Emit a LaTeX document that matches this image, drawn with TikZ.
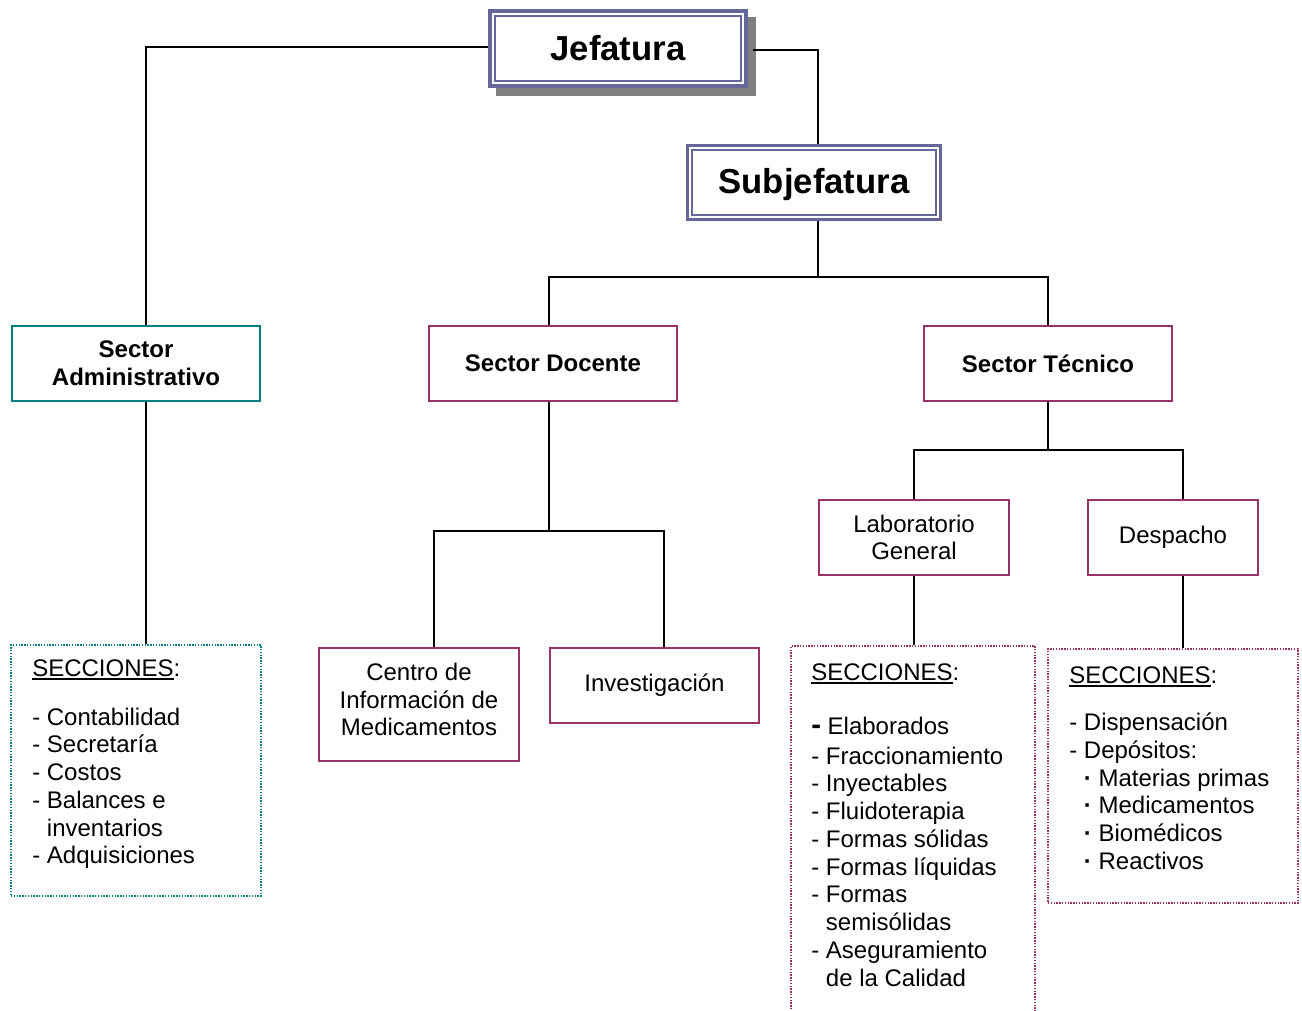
\documentclass[tikz,border=0pt]{standalone}
\usepackage{fontspec}
\setmainfont{Liberation Sans}
\usetikzlibrary{backgrounds}
\definecolor{jefecol}{RGB}{102,102,153}
\definecolor{admcol}{RGB}{0,128,128}
\definecolor{teccol}{RGB}{153,51,102}
\definecolor{shadowgray}{RGB}{128,128,128}
\newcommand{\ulsec}[1]{\setbox0\hbox{#1}\rlap{\rule[-2.6pt]{\wd0}{1.1pt}}\box0}
\newcommand{\dotitem}{\hspace*{11pt}{\bfseries ·}\ }
\tikzset{
  edge/.style = {
    line width=1.5pt
  },
  inner frame/.style = {
    path picture={\draw[jefecol, line width=1.3pt]
      ([shift={(#1,-#1)}]path picture bounding box.north west) rectangle
      ([shift={(-#1,#1)}]path picture bounding box.south east);}
  },
  jefebox/.style = {
    draw=jefecol, fill=white,
    font=\fontsize{26}{30}\selectfont\bfseries
  },
  admbox/.style = {
    draw=admcol, line width=2pt, align=center,
    minimum width=186pt, minimum height=56.25pt,
    font=\fontsize{18}{20.8}\selectfont\bfseries
  },
  tecbox/.style = {
    draw=teccol, line width=1.5pt, align=center,
    minimum width=186pt, minimum height=56.25pt,
    font=\fontsize{18}{20.8}\selectfont\bfseries
  },
  unitbox/.style = {
    draw=teccol, line width=1.5pt, align=center,
    minimum height=56.25pt,
    font=\fontsize{18}{20.6}\selectfont
  },
  secbox/.style = {
    line width=1.5pt, dash pattern=on 1.1pt off 1pt
  },
  seclist/.style = {
    anchor=north west, inner sep=0pt, align=left,
    font=\fontsize{18}{20.8}\selectfont
  }
}

\begin{document}
\begin{tikzpicture}[x=0.75pt, y=-0.75pt]
    \useasboundingbox (0,0) rectangle (1302,1010);

    \node[jefebox, line width=2.6pt, inner frame=4pt, minimum width=192pt, minimum height=56.25pt] (jefe) at (618,48.5) {Jefatura};
    \node[jefebox, line width=2.2pt, inner frame=3.4pt, minimum width=189.75pt, minimum height=55.5pt, text depth=3pt] (subjefe) at (814,182.5) {Subjefatura};
    \begin{scope}[on background layer]
      \fill[shadowgray] ([shift={(6pt,-6pt)}]jefe.south west) rectangle ([shift={(6pt,-6pt)}]jefe.north east);
    \end{scope}

    \node[admbox] (adm) at (136,363.5) {Sector\\Administrativo};
    \node[tecbox] (doc) at (553,363.5) {Sector Docente};
    \node[tecbox] (tec) at (1048,363.5) {Sector Técnico};

    \node[unitbox, minimum width=142.5pt] (lab) at (914,537.5) {Laboratorio\\General};
    \node[unitbox, minimum width=127.5pt] (desp) at (1173,537.5) {Despacho};
    \node[unitbox, minimum width=150pt, minimum height=84.75pt, text depth=7.5pt] (cim) at (419,704.5) {Centro de\\Información de\\Medicamentos};
    \node[unitbox, minimum width=156.75pt] (inv) at (654.5,685) {Investigación};

    \node[secbox, draw=admcol, minimum width=187.5pt, minimum height=188.25pt] (secadm) at (136,770.5) {};
    \node[secbox, draw=teccol, minimum width=183pt, minimum height=276pt] (seclab) at (913,830) {};
    \node[secbox, draw=teccol, minimum width=187.5pt, minimum height=190.5pt] (secdesp) at (1173,776) {};

    \node[seclist] (admlist) at (32,659) {\ulsec{SECCIONES}:\\[16pt]
      - Contabilidad\\ - Secretaría\\ - Costos\\ - Balances e\\
      \phantom{- }inventarios\\ - Adquisiciones};
    \node[seclist] (lablist) at (811,663) {\ulsec{SECCIONES}:\\[20pt]
      {\fontsize{22}{20.8}\selectfont\bfseries -}\hspace{5pt}Elaborados\\[1.5pt] - Fraccionamiento\\ - Inyectables\\
      - Fluidoterapia\\ - Formas sólidas\\ - Formas líquidas\\ - Formas\\
      \phantom{- }semisólidas\\ - Aseguramiento\\ \phantom{- }de la Calidad};
    \node[seclist] (desplist) at (1069,666) {\ulsec{SECCIONES}:\\[15pt]
      - Dispensación\\ - Depósitos:\\ \dotitem Materias primas\\
      \dotitem Medicamentos\\ \dotitem Biomédicos\\ \dotitem Reactivos};

    \coordinate (tsub) at (818,277);
    \coordinate (tdoc) at (549,531);
    \coordinate (ttec) at (1048,450);

    \draw[edge] ([yshift=1.2pt]jefe.west) -| ([xshift=7.5pt]adm.north);
    \draw[edge] ([xshift=4pt,yshift=-1pt]jefe.east) -| ([xshift=3pt]subjefe.north);
    \draw[edge] ([xshift=3pt]subjefe.south) -- (tsub);
    \draw[edge] ([xshift=-3pt]doc.north) |- (tsub) -| (tec.north);
    \draw[edge] ([xshift=7.5pt]adm.south) -- ([xshift=7.5pt]secadm.north);
    \draw[edge] ([xshift=-3pt]doc.south) -- (tdoc);
    \draw[edge] ([xshift=11.25pt]cim.north) |- (tdoc) -| ([xshift=7.1pt]inv.north);
    \draw[edge] (tec.south) -- (ttec);
    \draw[edge] (lab.north) |- (ttec) -| ([xshift=7.5pt]desp.north);
    \draw[edge] (lab.south) -- (lab.south |- seclab.north);
    \draw[edge] ([xshift=7.5pt]desp.south) -- ([xshift=7.5pt]desp.south |- secdesp.north);
\end{tikzpicture}
\end{document}
